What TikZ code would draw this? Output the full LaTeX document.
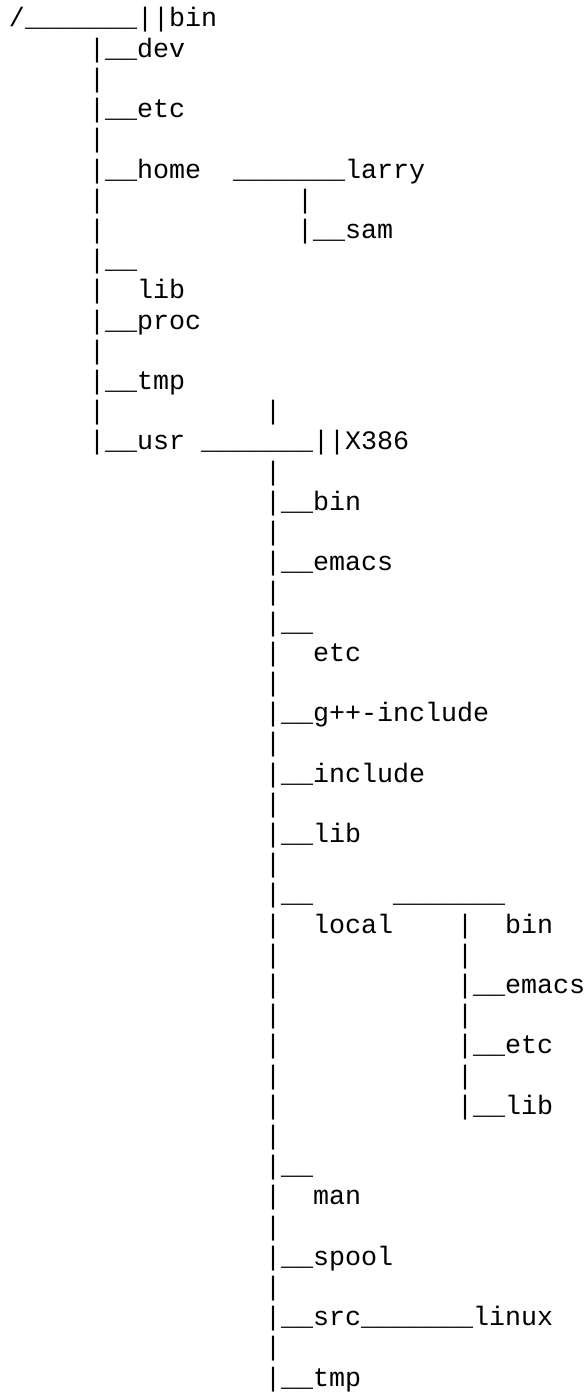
\documentclass[tikz,border=0pt]{standalone}
\usepackage{fontspec}
\setmonofont{Liberation Mono}
\tikzset{tt/.style={anchor=base west, inner sep=0pt, outer sep=0pt, text=black, font=\fontsize{26.67pt}{30.2pt}\ttfamily}}
% #1 name, #2 column, #3 row, #4 text
\newcommand\seg[4]{\node[tt] (#1) at ({(9+16*#2)*1pt},{-(27+30.2*#3)*1pt}) {#4};}
\newcommand\us{\_}
\begin{document}
\begin{tikzpicture}
\useasboundingbox (0,0) rectangle (587pt,-1392pt);
\seg{r0a}{0}{0}{/\us\us\us\us\us\us\us||bin}
\seg{r1a}{5}{1}{|\us\us dev}
\seg{r2a}{5}{2}{|}
\seg{r3a}{5}{3}{|\us\us etc}
\seg{r4a}{5}{4}{|}
\seg{r5a}{5}{5}{|\us\us home}
\seg{r5b}{14}{5}{\us\us\us\us\us\us\us larry}
\seg{r6a}{5}{6}{|}
\seg{r6b}{18}{6}{|}
\seg{r7a}{5}{7}{|}
\seg{r7b}{18}{7}{|\us\us sam}
\seg{r8a}{5}{8}{|\us\us}
\seg{r9a}{5}{9}{|}
\seg{r9b}{8}{9}{lib}
\seg{r10a}{5}{10}{|\us\us proc}
\seg{r11a}{5}{11}{|}
\seg{r12a}{5}{12}{|\us\us tmp}
\seg{r13a}{5}{13}{|}
\seg{r13b}{16}{13}{|}
\seg{r14a}{5}{14}{|\us\us usr}
\seg{r14b}{12}{14}{\us\us\us\us\us\us\us||X386}
\seg{r15a}{16}{15}{|}
\seg{r16a}{16}{16}{|\us\us bin}
\seg{r17a}{16}{17}{|}
\seg{r18a}{16}{18}{|\us\us emacs}
\seg{r19a}{16}{19}{|}
\seg{r20a}{16}{20}{|\us\us}
\seg{r21a}{16}{21}{|}
\seg{r21b}{19}{21}{etc}
\seg{r22a}{16}{22}{|}
\seg{r23a}{16}{23}{|\us\us g++-include}
\seg{r24a}{16}{24}{|}
\seg{r25a}{16}{25}{|\us\us include}
\seg{r26a}{16}{26}{|}
\seg{r27a}{16}{27}{|\us\us lib}
\seg{r28a}{16}{28}{|}
\seg{r29a}{16}{29}{|\us\us}
\seg{r29b}{24}{29}{\us\us\us\us\us\us\us}
\seg{r30a}{16}{30}{|}
\seg{r30b}{19}{30}{local}
\seg{r30c}{28}{30}{|}
\seg{r30d}{31}{30}{bin}
\seg{r31a}{16}{31}{|}
\seg{r31b}{28}{31}{|}
\seg{r32a}{16}{32}{|}
\seg{r32b}{28}{32}{|\us\us emacs}
\seg{r33a}{16}{33}{|}
\seg{r33b}{28}{33}{|}
\seg{r34a}{16}{34}{|}
\seg{r34b}{28}{34}{|\us\us etc}
\seg{r35a}{16}{35}{|}
\seg{r35b}{28}{35}{|}
\seg{r36a}{16}{36}{|}
\seg{r36b}{28}{36}{|\us\us lib}
\seg{r37a}{16}{37}{|}
\seg{r38a}{16}{38}{|\us\us}
\seg{r39a}{16}{39}{|}
\seg{r39b}{19}{39}{man}
\seg{r40a}{16}{40}{|}
\seg{r41a}{16}{41}{|\us\us spool}
\seg{r42a}{16}{42}{|}
\seg{r43a}{16}{43}{|\us\us src\us\us\us\us\us\us\us linux}
\seg{r44a}{16}{44}{|}
\seg{r45a}{16}{45}{|\us\us tmp}
\end{tikzpicture}
\end{document}
